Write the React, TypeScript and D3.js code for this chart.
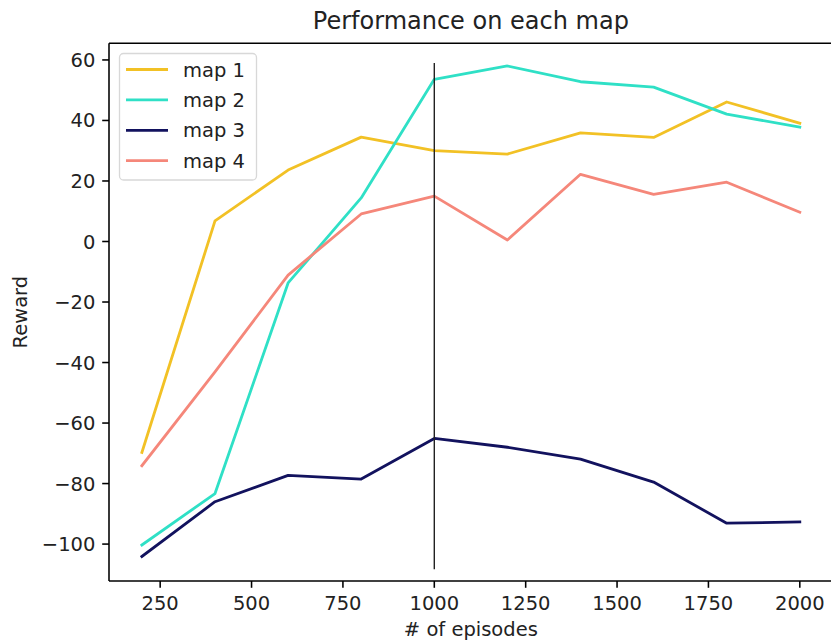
import React from 'react';
import * as d3 from 'd3';

// data
const episodes = [200, 400, 600, 800, 1000, 1200, 1400, 1600, 1800, 2000];
const map1 = [-69.7, 6.8, 23.6, 34.5, 30.0, 28.9, 35.9, 34.4, 46.1, 39.1];
const map2 = [-100.3, -83.3, -13.7, 14.4, 53.6, 58.0, 52.8, 51.0, 42.1, 37.8];
const map3 = [-104.1, -86.0, -77.3, -78.5, -65.1, -68.0, -71.9, -79.5, -93.1, -92.7];
const map4 = [-74.1, -43.1, -11.1, 9.1, 15.0, 0.5, 22.2, 15.6, 19.6, 9.7];
const seriesNames = ['map 1', 'map 2', 'map 3', 'map 4'];
const xTicks = [250, 500, 750, 1000, 1250, 1500, 1750, 2000];
const yTicks = [60, 40, 20, 0, -20, -40, -60, -80, -100];
const markerEpisode = 1000;
const markerRange = [-108.3, 59.0];
const xLimits = [110, 2090];
const yLimits = [-112.2, 65.5];

const colors = ['#f2c125', '#2fe0c6', '#12125e', '#f5877a'];
const font = 'DejaVu Sans, sans-serif';
const fs = 19.5;

const W = 831, H = 643;
const left = 109, right = 832.7, top = 43.3, bottom = 581;

export default function App() {
  const x = d3.scaleLinear().domain(xLimits).range([left, right]);
  const y = d3.scaleLinear().domain(yLimits).range([bottom, top]);
  const all = [map1, map2, map3, map4];

  const line = d3.line<number>()
    .x((_, i) => x(episodes[i]))
    .y(d => y(d));

  return (
    <svg width={W} height={H} style={{position: 'absolute', left: 0, top: 0, background: '#fff'}}
      fontFamily={font}>
      <rect x={0} y={0} width={W} height={H} fill="#fff" />

      {all.map((s, i) => (
        <path key={i} d={line(s) || ''} fill="none" stroke={colors[i]} strokeWidth={2.8}
          strokeLinejoin="round" strokeLinecap="square" />
      ))}

      {/* vertical marker */}
      <line x1={x(markerEpisode)} x2={x(markerEpisode)} y1={y(markerRange[0])} y2={y(markerRange[1])}
        stroke="#222" strokeWidth={1.4} />

      {/* spines */}
      <line x1={left} x2={left} y1={top} y2={bottom} stroke="#000" strokeWidth={1.56} />
      <line x1={left} x2={right} y1={bottom} y2={bottom} stroke="#000" strokeWidth={1.56} />
      <line x1={left} x2={right} y1={top} y2={top} stroke="#000" strokeWidth={1.56} />
      <line x1={right} x2={right} y1={top} y2={bottom} stroke="#000" strokeWidth={1.56} />

      {/* x ticks */}
      {xTicks.map(t => (
        <g key={t}>
          <line x1={x(t)} x2={x(t)} y1={bottom} y2={bottom + 6.8} stroke="#000" strokeWidth={1.56} />
          <text x={x(t)} y={bottom + 29} textAnchor="middle" fontSize={fs} fill="#222">{t}</text>
        </g>
      ))}
      {/* y ticks */}
      {yTicks.map(t => (
        <g key={t}>
          <line x1={left - 6.8} x2={left} y1={y(t)} y2={y(t)} stroke="#000" strokeWidth={1.56} />
          <text x={left - 13.6} y={y(t)} dy="0.36em" textAnchor="end" fontSize={fs} fill="#222">
            {t < 0 ? '\u2212' + Math.abs(t) : t}
          </text>
        </g>
      ))}

      <text x={(left + right) / 2} y={636} textAnchor="middle" fontSize={fs} fill="#222"># of episodes</text>
      <text transform={`translate(27,${(top + bottom) / 2}) rotate(-90)`} textAnchor="middle"
        fontSize={fs} fill="#222">Reward</text>
      <text x={(left + right) / 2} y={29} textAnchor="middle" fontSize={24} fill="#222">
        Performance on each map
      </text>

      {/* legend */}
      <rect x={119.5} y={53.5} width={137} height={126.5} rx={4} fill="#fff" fillOpacity={0.8}
        stroke="#d8d8d8" strokeWidth={1.3} />
      {seriesNames.map((n, i) => (
        <g key={n}>
          <line x1={126} x2={168} y1={69.5 + i * 30.4} y2={69.5 + i * 30.4} stroke={colors[i]} strokeWidth={2.8} />
          <text x={183} y={69.5 + i * 30.4} dy="0.36em" fontSize={fs} fill="#222">{n}</text>
        </g>
      ))}
    </svg>
  );
}
